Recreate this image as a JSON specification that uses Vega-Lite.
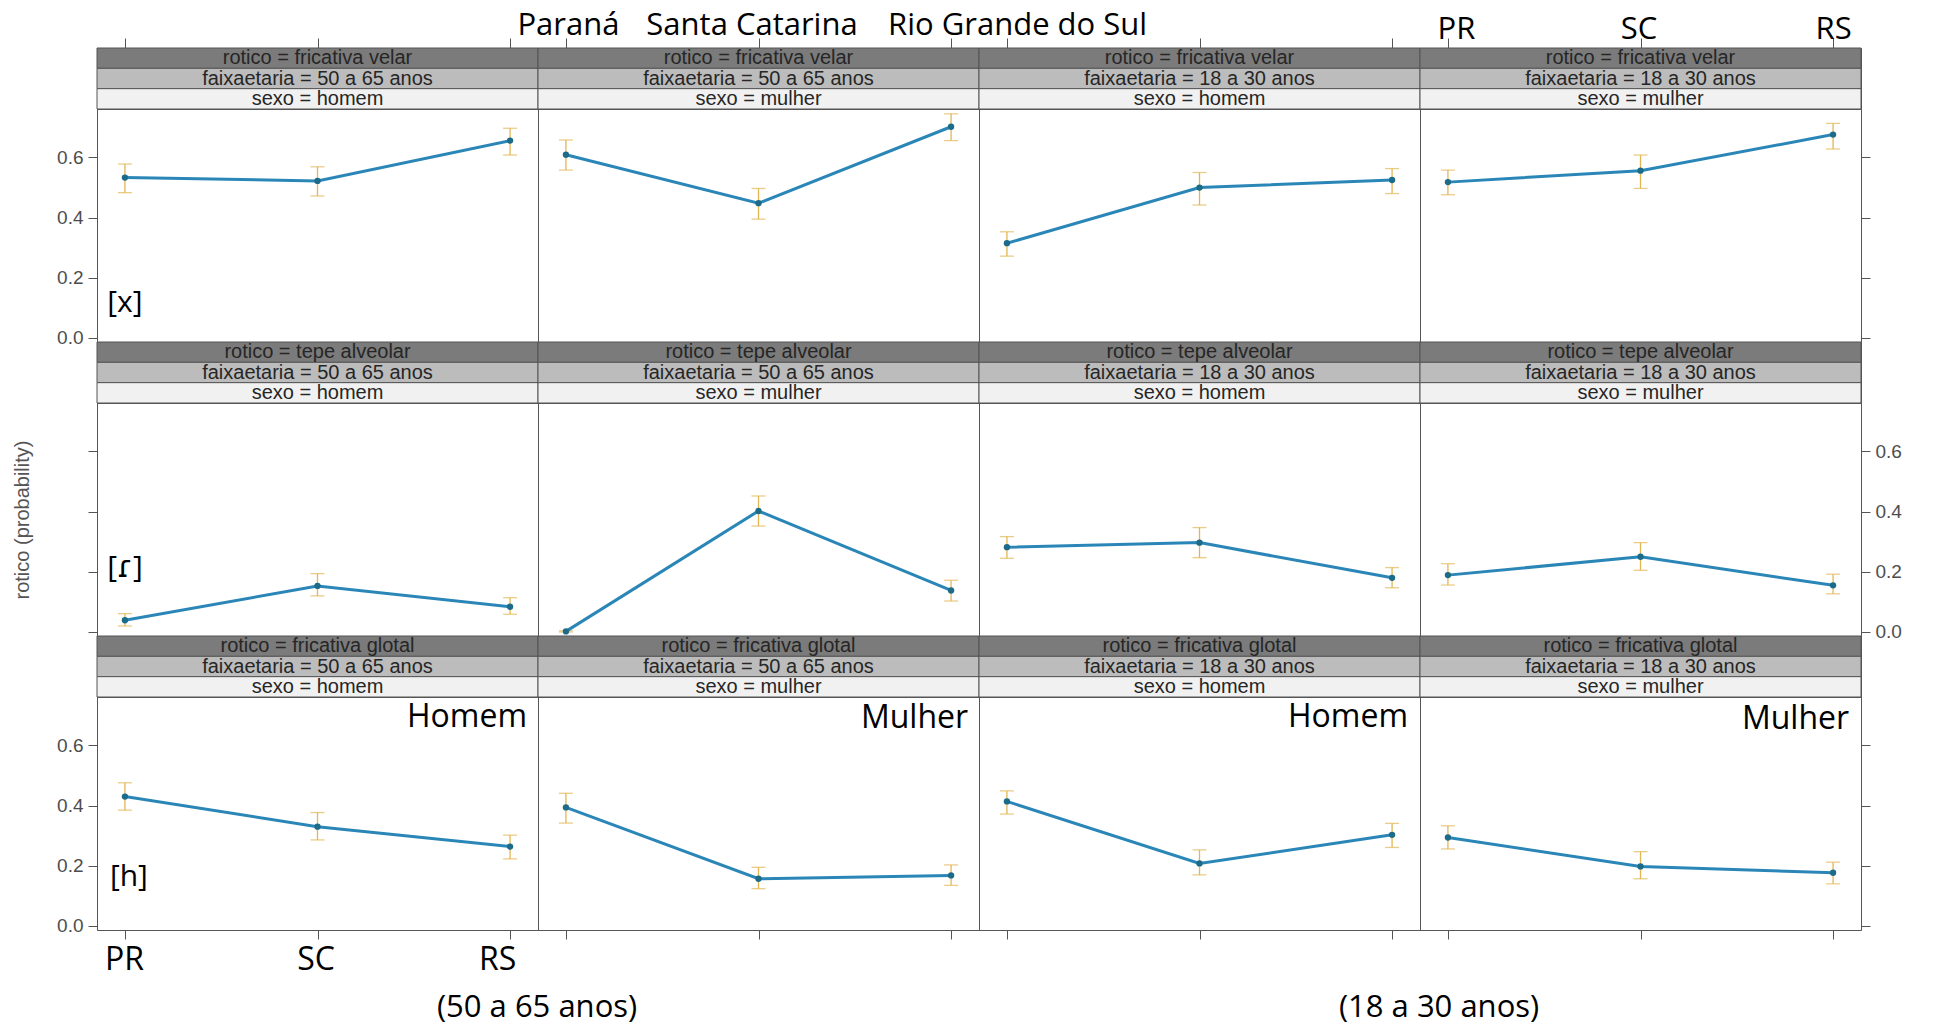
{
"$schema":"https://vega.github.io/schema/vega-lite/v6.json",
"padding":{"left":12,"top":8,"right":5,"bottom":0},
"background":"white",
"config":{
 "view":{"stroke":"#555","strokeWidth":1},
 "axis":{"domain":false,"grid":false,"tickColor":"#555","tickWidth":1,"tickSize":9,"labelFont":"Liberation Sans","labelFontSize":19,"labelColor":"#4d4d4d","labelPadding":5,"labelLimit":0,"titleFont":"Liberation Sans","titleFontSize":20,"titleFontWeight":"normal","titleColor":"#555"},
 "axisX":{"labelAngle":0}
},
"datasets":{
 "p11":[{"reg":"PR","fit":0.533,"lo":0.483,"hi":0.578},{"reg":"SC","fit":0.522,"lo":0.472,"hi":0.569},{"reg":"RS","fit":0.656,"lo":0.608,"hi":0.697}],
 "p12":[{"reg":"PR","fit":0.609,"lo":0.558,"hi":0.658},{"reg":"SC","fit":0.448,"lo":0.395,"hi":0.497},{"reg":"RS","fit":0.702,"lo":0.656,"hi":0.745}],
 "p13":[{"reg":"PR","fit":0.315,"lo":0.272,"hi":0.353},{"reg":"SC","fit":0.500,"lo":0.442,"hi":0.550},{"reg":"RS","fit":0.525,"lo":0.480,"hi":0.563}],
 "p14":[{"reg":"PR","fit":0.518,"lo":0.476,"hi":0.558},{"reg":"SC","fit":0.556,"lo":0.497,"hi":0.608},{"reg":"RS","fit":0.676,"lo":0.628,"hi":0.713}],
 "p21":[{"reg":"PR","fit":0.039,"lo":0.020,"hi":0.061},{"reg":"SC","fit":0.153,"lo":0.120,"hi":0.194},{"reg":"RS","fit":0.084,"lo":0.059,"hi":0.114}],
 "p22":[{"reg":"PR","fit":0.002,"lo":0.000,"hi":0.004},{"reg":"SC","fit":0.402,"lo":0.352,"hi":0.452},{"reg":"RS","fit":0.138,"lo":0.103,"hi":0.172}],
 "p23":[{"reg":"PR","fit":0.282,"lo":0.245,"hi":0.317},{"reg":"SC","fit":0.297,"lo":0.247,"hi":0.347},{"reg":"RS","fit":0.180,"lo":0.147,"hi":0.214}],
 "p24":[{"reg":"PR","fit":0.189,"lo":0.156,"hi":0.227},{"reg":"SC","fit":0.250,"lo":0.205,"hi":0.297},{"reg":"RS","fit":0.155,"lo":0.127,"hi":0.192}],
 "p31":[{"reg":"PR","fit":0.430,"lo":0.385,"hi":0.476},{"reg":"SC","fit":0.330,"lo":0.286,"hi":0.377},{"reg":"RS","fit":0.264,"lo":0.223,"hi":0.302}],
 "p32":[{"reg":"PR","fit":0.394,"lo":0.342,"hi":0.441},{"reg":"SC","fit":0.157,"lo":0.124,"hi":0.195},{"reg":"RS","fit":0.168,"lo":0.135,"hi":0.203}],
 "p33":[{"reg":"PR","fit":0.414,"lo":0.372,"hi":0.449},{"reg":"SC","fit":0.208,"lo":0.170,"hi":0.253},{"reg":"RS","fit":0.303,"lo":0.261,"hi":0.341}],
 "p34":[{"reg":"PR","fit":0.294,"lo":0.256,"hi":0.333},{"reg":"SC","fit":0.198,"lo":0.157,"hi":0.247},{"reg":"RS","fit":0.177,"lo":0.140,"hi":0.212}],
 "s11":[{"lvl":"rotico","label":"rotico = fricativa velar"},{"lvl":"faixaetaria","label":"faixaetaria = 50 a 65 anos"},{"lvl":"sexo","label":"sexo = homem"}],
 "s12":[{"lvl":"rotico","label":"rotico = fricativa velar"},{"lvl":"faixaetaria","label":"faixaetaria = 50 a 65 anos"},{"lvl":"sexo","label":"sexo = mulher"}],
 "s13":[{"lvl":"rotico","label":"rotico = fricativa velar"},{"lvl":"faixaetaria","label":"faixaetaria = 18 a 30 anos"},{"lvl":"sexo","label":"sexo = homem"}],
 "s14":[{"lvl":"rotico","label":"rotico = fricativa velar"},{"lvl":"faixaetaria","label":"faixaetaria = 18 a 30 anos"},{"lvl":"sexo","label":"sexo = mulher"}],
 "s21":[{"lvl":"rotico","label":"rotico = tepe alveolar"},{"lvl":"faixaetaria","label":"faixaetaria = 50 a 65 anos"},{"lvl":"sexo","label":"sexo = homem"}],
 "s22":[{"lvl":"rotico","label":"rotico = tepe alveolar"},{"lvl":"faixaetaria","label":"faixaetaria = 50 a 65 anos"},{"lvl":"sexo","label":"sexo = mulher"}],
 "s23":[{"lvl":"rotico","label":"rotico = tepe alveolar"},{"lvl":"faixaetaria","label":"faixaetaria = 18 a 30 anos"},{"lvl":"sexo","label":"sexo = homem"}],
 "s24":[{"lvl":"rotico","label":"rotico = tepe alveolar"},{"lvl":"faixaetaria","label":"faixaetaria = 18 a 30 anos"},{"lvl":"sexo","label":"sexo = mulher"}],
 "s31":[{"lvl":"rotico","label":"rotico = fricativa glotal"},{"lvl":"faixaetaria","label":"faixaetaria = 50 a 65 anos"},{"lvl":"sexo","label":"sexo = homem"}],
 "s32":[{"lvl":"rotico","label":"rotico = fricativa glotal"},{"lvl":"faixaetaria","label":"faixaetaria = 50 a 65 anos"},{"lvl":"sexo","label":"sexo = mulher"}],
 "s33":[{"lvl":"rotico","label":"rotico = fricativa glotal"},{"lvl":"faixaetaria","label":"faixaetaria = 18 a 30 anos"},{"lvl":"sexo","label":"sexo = homem"}],
 "s34":[{"lvl":"rotico","label":"rotico = fricativa glotal"},{"lvl":"faixaetaria","label":"faixaetaria = 18 a 30 anos"},{"lvl":"sexo","label":"sexo = mulher"}]
},
"columns":4,
"spacing":0,
"bounds":"flush",
"concat":[
 {"width":441,"height":61,"data":{"name":"s11"},"layer":[
  {"mark":{"type":"rect","stroke":"#555","strokeWidth":1},"encoding":{"y":{"field":"lvl","type":"nominal","scale":{"type":"band","domain":["rotico","faixaetaria","sexo"],"paddingInner":0,"paddingOuter":0},"axis":null},"x":{"value":0},"x2":{"value":"width"},"fill":{"field":"lvl","type":"nominal","scale":{"domain":["rotico","faixaetaria","sexo"],"range":["#7b7b7b","#bcbcbc","#f1f1f1"]},"legend":null}}},
  {"mark":{"type":"text","font":"Liberation Sans","fontSize":20,"color":"#262626"},"encoding":{"y":{"field":"lvl","type":"nominal","scale":{"type":"band","domain":["rotico","faixaetaria","sexo"],"paddingInner":0,"paddingOuter":0},"axis":null},"text":{"field":"label"}}},
  {"mark":{"type":"rule","strokeOpacity":0},"encoding":{"x":{"datum":"SC","type":"ordinal","scale":{"type":"point","domain":["PR","SC","RS"],"padding":0.145},"axis":{"orient":"top","tickSize":10,"labels":false,"title":null}}}}
 ]},
 {"width":441,"height":61,"data":{"name":"s12"},"layer":[
  {"mark":{"type":"rect","stroke":"#555","strokeWidth":1},"encoding":{"y":{"field":"lvl","type":"nominal","scale":{"type":"band","domain":["rotico","faixaetaria","sexo"],"paddingInner":0,"paddingOuter":0},"axis":null},"x":{"value":0},"x2":{"value":"width"},"fill":{"field":"lvl","type":"nominal","scale":{"domain":["rotico","faixaetaria","sexo"],"range":["#7b7b7b","#bcbcbc","#f1f1f1"]},"legend":null}}},
  {"mark":{"type":"text","font":"Liberation Sans","fontSize":20,"color":"#262626"},"encoding":{"y":{"field":"lvl","type":"nominal","scale":{"type":"band","domain":["rotico","faixaetaria","sexo"],"paddingInner":0,"paddingOuter":0},"axis":null},"text":{"field":"label"}}},
  {"mark":{"type":"rule","strokeOpacity":0},"encoding":{"x":{"datum":"SC","type":"ordinal","scale":{"type":"point","domain":["PR","SC","RS"],"padding":0.145},"axis":{"orient":"top","tickSize":10,"labels":true,"labelExpr":"datum.value == 'PR' ? 'Paraná' : datum.value == 'SC' ? 'Santa Catarina' : 'Rio Grande do Sul'","labelFont":"Open Sans","labelFontSize":31,"labelColor":"#000","labelPadding":-3,"labelOverlap":false,"labelLimit":0,"labelOffset":{"condition":[{"test":"datum.value == 'RS'","value":66},{"test":"datum.value == 'SC'","value":-7}],"value":2},"title":null}}}}
 ]},
 {"width":441,"height":61,"data":{"name":"s13"},"layer":[
  {"mark":{"type":"rect","stroke":"#555","strokeWidth":1},"encoding":{"y":{"field":"lvl","type":"nominal","scale":{"type":"band","domain":["rotico","faixaetaria","sexo"],"paddingInner":0,"paddingOuter":0},"axis":null},"x":{"value":0},"x2":{"value":"width"},"fill":{"field":"lvl","type":"nominal","scale":{"domain":["rotico","faixaetaria","sexo"],"range":["#7b7b7b","#bcbcbc","#f1f1f1"]},"legend":null}}},
  {"mark":{"type":"text","font":"Liberation Sans","fontSize":20,"color":"#262626"},"encoding":{"y":{"field":"lvl","type":"nominal","scale":{"type":"band","domain":["rotico","faixaetaria","sexo"],"paddingInner":0,"paddingOuter":0},"axis":null},"text":{"field":"label"}}},
  {"mark":{"type":"rule","strokeOpacity":0},"encoding":{"x":{"datum":"SC","type":"ordinal","scale":{"type":"point","domain":["PR","SC","RS"],"padding":0.145},"axis":{"orient":"top","tickSize":10,"labels":false,"title":null}}}}
 ]},
 {"width":441,"height":61,"data":{"name":"s14"},"layer":[
  {"mark":{"type":"rect","stroke":"#555","strokeWidth":1},"encoding":{"y":{"field":"lvl","type":"nominal","scale":{"type":"band","domain":["rotico","faixaetaria","sexo"],"paddingInner":0,"paddingOuter":0},"axis":null},"x":{"value":0},"x2":{"value":"width"},"fill":{"field":"lvl","type":"nominal","scale":{"domain":["rotico","faixaetaria","sexo"],"range":["#7b7b7b","#bcbcbc","#f1f1f1"]},"legend":null}}},
  {"mark":{"type":"text","font":"Liberation Sans","fontSize":20,"color":"#262626"},"encoding":{"y":{"field":"lvl","type":"nominal","scale":{"type":"band","domain":["rotico","faixaetaria","sexo"],"paddingInner":0,"paddingOuter":0},"axis":null},"text":{"field":"label"}}},
  {"mark":{"type":"rule","strokeOpacity":0},"encoding":{"x":{"datum":"SC","type":"ordinal","scale":{"type":"point","domain":["PR","SC","RS"],"padding":0.145},"axis":{"orient":"top","tickSize":10,"labels":true,"labelFont":"Open Sans","labelFontSize":31,"labelColor":"#000","labelPadding":-7,"labelOffset":{"condition":[{"test":"datum.value == 'SC'","value":-2},{"test":"datum.value == 'RS'","value":0}],"value":8},"title":null}}}}
 ]},

 {"width":441,"height":233,"data":{"name":"p11"},
  "encoding":{"x":{"field":"reg","type":"ordinal","scale":{"type":"point","domain":["PR","SC","RS"],"padding":0.145},"axis":null},"y":{"field":"fit","type":"quantitative","scale":{"domain":[-0.0133,0.761],"nice":false,"zero":false},"axis":{"orient":"left","values":[0,0.2,0.4,0.6],"format":".1f","title":null}}},
  "layer":[
   {"mark":{"type":"rule","color":"#e3b654","strokeWidth":1.3},"encoding":{"y":{"field":"lo","type":"quantitative","scale":{"domain":[-0.0133,0.761],"nice":false,"zero":false},"axis":{"orient":"left","values":[0,0.2,0.4,0.6],"format":".1f","title":null}},"y2":{"field":"hi"}}},
   {"transform":[{"fold":["lo","hi"],"as":["k","v"]}],"mark":{"type":"tick","orient":"horizontal","color":"#e3b654","size":14,"thickness":1.3},"encoding":{"y":{"field":"v","type":"quantitative","scale":{"domain":[-0.0133,0.761],"nice":false,"zero":false},"axis":{"orient":"left","values":[0,0.2,0.4,0.6],"format":".1f","title":null}}}},
   {"mark":{"type":"line","color":"#2b86b8","strokeWidth":3},"encoding":{}},
   {"mark":{"type":"point","filled":true,"color":"#1c6b88","size":40,"opacity":1}},
   {"transform":[{"filter":"datum.reg == 'PR'"}],"mark":{"type":"text","font":"Open Sans","fontSize":30,"color":"#000","baseline":"middle","align":"center"},"encoding":{"x":{"datum":"PR","type":"ordinal","scale":{"type":"point","domain":["PR","SC","RS"],"padding":0.145},"axis":null},"y":{"datum":0.117,"type":"quantitative","scale":{"domain":[-0.0133,0.761],"nice":false,"zero":false},"axis":{"orient":"left","values":[0,0.2,0.4,0.6],"format":".1f","title":null}},"text":{"value":"[x]"}}}
  ]},
 {"width":441,"height":233,"data":{"name":"p12"},
  "encoding":{"x":{"field":"reg","type":"ordinal","scale":{"type":"point","domain":["PR","SC","RS"],"padding":0.145},"axis":null},"y":{"field":"fit","type":"quantitative","scale":{"domain":[-0.0133,0.761],"nice":false,"zero":false},"axis":null}},
  "layer":[
   {"mark":{"type":"rule","color":"#e3b654","strokeWidth":1.3},"encoding":{"y":{"field":"lo","type":"quantitative","scale":{"domain":[-0.0133,0.761],"nice":false,"zero":false},"axis":null},"y2":{"field":"hi"}}},
   {"transform":[{"fold":["lo","hi"],"as":["k","v"]}],"mark":{"type":"tick","orient":"horizontal","color":"#e3b654","size":14,"thickness":1.3},"encoding":{"y":{"field":"v","type":"quantitative","scale":{"domain":[-0.0133,0.761],"nice":false,"zero":false},"axis":null}}},
   {"mark":{"type":"line","color":"#2b86b8","strokeWidth":3},"encoding":{}},
   {"mark":{"type":"point","filled":true,"color":"#1c6b88","size":40,"opacity":1}}
  ]},
 {"width":441,"height":233,"data":{"name":"p13"},
  "encoding":{"x":{"field":"reg","type":"ordinal","scale":{"type":"point","domain":["PR","SC","RS"],"padding":0.145},"axis":null},"y":{"field":"fit","type":"quantitative","scale":{"domain":[-0.0133,0.761],"nice":false,"zero":false},"axis":null}},
  "layer":[
   {"mark":{"type":"rule","color":"#e3b654","strokeWidth":1.3},"encoding":{"y":{"field":"lo","type":"quantitative","scale":{"domain":[-0.0133,0.761],"nice":false,"zero":false},"axis":null},"y2":{"field":"hi"}}},
   {"transform":[{"fold":["lo","hi"],"as":["k","v"]}],"mark":{"type":"tick","orient":"horizontal","color":"#e3b654","size":14,"thickness":1.3},"encoding":{"y":{"field":"v","type":"quantitative","scale":{"domain":[-0.0133,0.761],"nice":false,"zero":false},"axis":null}}},
   {"mark":{"type":"line","color":"#2b86b8","strokeWidth":3},"encoding":{}},
   {"mark":{"type":"point","filled":true,"color":"#1c6b88","size":40,"opacity":1}}
  ]},
 {"width":441,"height":233,"data":{"name":"p14"},
  "encoding":{"x":{"field":"reg","type":"ordinal","scale":{"type":"point","domain":["PR","SC","RS"],"padding":0.145},"axis":null},"y":{"field":"fit","type":"quantitative","scale":{"domain":[-0.0133,0.761],"nice":false,"zero":false},"axis":{"orient":"right","values":[0,0.2,0.4,0.6],"labels":false,"title":null}}},
  "layer":[
   {"mark":{"type":"rule","color":"#e3b654","strokeWidth":1.3},"encoding":{"y":{"field":"lo","type":"quantitative","scale":{"domain":[-0.0133,0.761],"nice":false,"zero":false},"axis":{"orient":"right","values":[0,0.2,0.4,0.6],"labels":false,"title":null}},"y2":{"field":"hi"}}},
   {"transform":[{"fold":["lo","hi"],"as":["k","v"]}],"mark":{"type":"tick","orient":"horizontal","color":"#e3b654","size":14,"thickness":1.3},"encoding":{"y":{"field":"v","type":"quantitative","scale":{"domain":[-0.0133,0.761],"nice":false,"zero":false},"axis":{"orient":"right","values":[0,0.2,0.4,0.6],"labels":false,"title":null}}}},
   {"mark":{"type":"line","color":"#2b86b8","strokeWidth":3},"encoding":{}},
   {"mark":{"type":"point","filled":true,"color":"#1c6b88","size":40,"opacity":1}}
  ]},

 {"width":441,"height":61,"data":{"name":"s21"},"layer":[
  {"mark":{"type":"rect","stroke":"#555","strokeWidth":1},"encoding":{"y":{"field":"lvl","type":"nominal","scale":{"type":"band","domain":["rotico","faixaetaria","sexo"],"paddingInner":0,"paddingOuter":0},"axis":null},"x":{"value":0},"x2":{"value":"width"},"fill":{"field":"lvl","type":"nominal","scale":{"domain":["rotico","faixaetaria","sexo"],"range":["#7b7b7b","#bcbcbc","#f1f1f1"]},"legend":null}}},
  {"mark":{"type":"text","font":"Liberation Sans","fontSize":20,"color":"#262626"},"encoding":{"y":{"field":"lvl","type":"nominal","scale":{"type":"band","domain":["rotico","faixaetaria","sexo"],"paddingInner":0,"paddingOuter":0},"axis":null},"text":{"field":"label"}}}
 ]},
 {"width":441,"height":61,"data":{"name":"s22"},"layer":[
  {"mark":{"type":"rect","stroke":"#555","strokeWidth":1},"encoding":{"y":{"field":"lvl","type":"nominal","scale":{"type":"band","domain":["rotico","faixaetaria","sexo"],"paddingInner":0,"paddingOuter":0},"axis":null},"x":{"value":0},"x2":{"value":"width"},"fill":{"field":"lvl","type":"nominal","scale":{"domain":["rotico","faixaetaria","sexo"],"range":["#7b7b7b","#bcbcbc","#f1f1f1"]},"legend":null}}},
  {"mark":{"type":"text","font":"Liberation Sans","fontSize":20,"color":"#262626"},"encoding":{"y":{"field":"lvl","type":"nominal","scale":{"type":"band","domain":["rotico","faixaetaria","sexo"],"paddingInner":0,"paddingOuter":0},"axis":null},"text":{"field":"label"}}}
 ]},
 {"width":441,"height":61,"data":{"name":"s23"},"layer":[
  {"mark":{"type":"rect","stroke":"#555","strokeWidth":1},"encoding":{"y":{"field":"lvl","type":"nominal","scale":{"type":"band","domain":["rotico","faixaetaria","sexo"],"paddingInner":0,"paddingOuter":0},"axis":null},"x":{"value":0},"x2":{"value":"width"},"fill":{"field":"lvl","type":"nominal","scale":{"domain":["rotico","faixaetaria","sexo"],"range":["#7b7b7b","#bcbcbc","#f1f1f1"]},"legend":null}}},
  {"mark":{"type":"text","font":"Liberation Sans","fontSize":20,"color":"#262626"},"encoding":{"y":{"field":"lvl","type":"nominal","scale":{"type":"band","domain":["rotico","faixaetaria","sexo"],"paddingInner":0,"paddingOuter":0},"axis":null},"text":{"field":"label"}}}
 ]},
 {"width":441,"height":61,"data":{"name":"s24"},"layer":[
  {"mark":{"type":"rect","stroke":"#555","strokeWidth":1},"encoding":{"y":{"field":"lvl","type":"nominal","scale":{"type":"band","domain":["rotico","faixaetaria","sexo"],"paddingInner":0,"paddingOuter":0},"axis":null},"x":{"value":0},"x2":{"value":"width"},"fill":{"field":"lvl","type":"nominal","scale":{"domain":["rotico","faixaetaria","sexo"],"range":["#7b7b7b","#bcbcbc","#f1f1f1"]},"legend":null}}},
  {"mark":{"type":"text","font":"Liberation Sans","fontSize":20,"color":"#262626"},"encoding":{"y":{"field":"lvl","type":"nominal","scale":{"type":"band","domain":["rotico","faixaetaria","sexo"],"paddingInner":0,"paddingOuter":0},"axis":null},"text":{"field":"label"}}}
 ]},

 {"width":441,"height":233,"data":{"name":"p21"},
  "encoding":{"x":{"field":"reg","type":"ordinal","scale":{"type":"point","domain":["PR","SC","RS"],"padding":0.145},"axis":null},"y":{"field":"fit","type":"quantitative","scale":{"domain":[-0.0133,0.761],"nice":false,"zero":false},"axis":{"orient":"left","values":[0,0.2,0.4,0.6],"labels":false,"title":"rotico (probability)","titlePadding":55}}},
  "layer":[
   {"mark":{"type":"rule","color":"#e3b654","strokeWidth":1.3},"encoding":{"y":{"field":"lo","type":"quantitative","scale":{"domain":[-0.0133,0.761],"nice":false,"zero":false},"axis":{"orient":"left","values":[0,0.2,0.4,0.6],"labels":false,"title":"rotico (probability)","titlePadding":55}},"y2":{"field":"hi"}}},
   {"transform":[{"fold":["lo","hi"],"as":["k","v"]}],"mark":{"type":"tick","orient":"horizontal","color":"#e3b654","size":14,"thickness":1.3},"encoding":{"y":{"field":"v","type":"quantitative","scale":{"domain":[-0.0133,0.761],"nice":false,"zero":false},"axis":{"orient":"left","values":[0,0.2,0.4,0.6],"labels":false,"title":"rotico (probability)","titlePadding":55}}}},
   {"mark":{"type":"line","color":"#2b86b8","strokeWidth":3},"encoding":{}},
   {"mark":{"type":"point","filled":true,"color":"#1c6b88","size":40,"opacity":1}},
   {"transform":[{"filter":"datum.reg == 'PR'"}],"mark":{"type":"text","font":"Open Sans, DejaVu Sans","fontSize":30,"color":"#000","baseline":"middle","align":"center"},"encoding":{"x":{"datum":"PR","type":"ordinal","scale":{"type":"point","domain":["PR","SC","RS"],"padding":0.145},"axis":null},"y":{"datum":0.214,"type":"quantitative","scale":{"domain":[-0.0133,0.761],"nice":false,"zero":false},"axis":{"orient":"left","values":[0,0.2,0.4,0.6],"labels":false,"title":"rotico (probability)","titlePadding":55}},"text":{"value":"[ɾ]"}}}
  ]},
 {"width":441,"height":233,"data":{"name":"p22"},
  "encoding":{"x":{"field":"reg","type":"ordinal","scale":{"type":"point","domain":["PR","SC","RS"],"padding":0.145},"axis":null},"y":{"field":"fit","type":"quantitative","scale":{"domain":[-0.0133,0.761],"nice":false,"zero":false},"axis":null}},
  "layer":[
   {"mark":{"type":"rule","color":"#e3b654","strokeWidth":1.3},"encoding":{"y":{"field":"lo","type":"quantitative","scale":{"domain":[-0.0133,0.761],"nice":false,"zero":false},"axis":null},"y2":{"field":"hi"}}},
   {"transform":[{"fold":["lo","hi"],"as":["k","v"]}],"mark":{"type":"tick","orient":"horizontal","color":"#e3b654","size":14,"thickness":1.3},"encoding":{"y":{"field":"v","type":"quantitative","scale":{"domain":[-0.0133,0.761],"nice":false,"zero":false},"axis":null}}},
   {"mark":{"type":"line","color":"#2b86b8","strokeWidth":3},"encoding":{}},
   {"mark":{"type":"point","filled":true,"color":"#1c6b88","size":40,"opacity":1}}
  ]},
 {"width":441,"height":233,"data":{"name":"p23"},
  "encoding":{"x":{"field":"reg","type":"ordinal","scale":{"type":"point","domain":["PR","SC","RS"],"padding":0.145},"axis":null},"y":{"field":"fit","type":"quantitative","scale":{"domain":[-0.0133,0.761],"nice":false,"zero":false},"axis":null}},
  "layer":[
   {"mark":{"type":"rule","color":"#e3b654","strokeWidth":1.3},"encoding":{"y":{"field":"lo","type":"quantitative","scale":{"domain":[-0.0133,0.761],"nice":false,"zero":false},"axis":null},"y2":{"field":"hi"}}},
   {"transform":[{"fold":["lo","hi"],"as":["k","v"]}],"mark":{"type":"tick","orient":"horizontal","color":"#e3b654","size":14,"thickness":1.3},"encoding":{"y":{"field":"v","type":"quantitative","scale":{"domain":[-0.0133,0.761],"nice":false,"zero":false},"axis":null}}},
   {"mark":{"type":"line","color":"#2b86b8","strokeWidth":3},"encoding":{}},
   {"mark":{"type":"point","filled":true,"color":"#1c6b88","size":40,"opacity":1}}
  ]},
 {"width":441,"height":233,"data":{"name":"p24"},
  "encoding":{"x":{"field":"reg","type":"ordinal","scale":{"type":"point","domain":["PR","SC","RS"],"padding":0.145},"axis":null},"y":{"field":"fit","type":"quantitative","scale":{"domain":[-0.0133,0.761],"nice":false,"zero":false},"axis":{"orient":"right","values":[0,0.2,0.4,0.6],"format":".1f","title":null}}},
  "layer":[
   {"mark":{"type":"rule","color":"#e3b654","strokeWidth":1.3},"encoding":{"y":{"field":"lo","type":"quantitative","scale":{"domain":[-0.0133,0.761],"nice":false,"zero":false},"axis":{"orient":"right","values":[0,0.2,0.4,0.6],"format":".1f","title":null}},"y2":{"field":"hi"}}},
   {"transform":[{"fold":["lo","hi"],"as":["k","v"]}],"mark":{"type":"tick","orient":"horizontal","color":"#e3b654","size":14,"thickness":1.3},"encoding":{"y":{"field":"v","type":"quantitative","scale":{"domain":[-0.0133,0.761],"nice":false,"zero":false},"axis":{"orient":"right","values":[0,0.2,0.4,0.6],"format":".1f","title":null}}}},
   {"mark":{"type":"line","color":"#2b86b8","strokeWidth":3},"encoding":{}},
   {"mark":{"type":"point","filled":true,"color":"#1c6b88","size":40,"opacity":1}}
  ]},

 {"width":441,"height":61,"data":{"name":"s31"},"layer":[
  {"mark":{"type":"rect","stroke":"#555","strokeWidth":1},"encoding":{"y":{"field":"lvl","type":"nominal","scale":{"type":"band","domain":["rotico","faixaetaria","sexo"],"paddingInner":0,"paddingOuter":0},"axis":null},"x":{"value":0},"x2":{"value":"width"},"fill":{"field":"lvl","type":"nominal","scale":{"domain":["rotico","faixaetaria","sexo"],"range":["#7b7b7b","#bcbcbc","#f1f1f1"]},"legend":null}}},
  {"mark":{"type":"text","font":"Liberation Sans","fontSize":20,"color":"#262626"},"encoding":{"y":{"field":"lvl","type":"nominal","scale":{"type":"band","domain":["rotico","faixaetaria","sexo"],"paddingInner":0,"paddingOuter":0},"axis":null},"text":{"field":"label"}}}
 ]},
 {"width":441,"height":61,"data":{"name":"s32"},"layer":[
  {"mark":{"type":"rect","stroke":"#555","strokeWidth":1},"encoding":{"y":{"field":"lvl","type":"nominal","scale":{"type":"band","domain":["rotico","faixaetaria","sexo"],"paddingInner":0,"paddingOuter":0},"axis":null},"x":{"value":0},"x2":{"value":"width"},"fill":{"field":"lvl","type":"nominal","scale":{"domain":["rotico","faixaetaria","sexo"],"range":["#7b7b7b","#bcbcbc","#f1f1f1"]},"legend":null}}},
  {"mark":{"type":"text","font":"Liberation Sans","fontSize":20,"color":"#262626"},"encoding":{"y":{"field":"lvl","type":"nominal","scale":{"type":"band","domain":["rotico","faixaetaria","sexo"],"paddingInner":0,"paddingOuter":0},"axis":null},"text":{"field":"label"}}}
 ]},
 {"width":441,"height":61,"data":{"name":"s33"},"layer":[
  {"mark":{"type":"rect","stroke":"#555","strokeWidth":1},"encoding":{"y":{"field":"lvl","type":"nominal","scale":{"type":"band","domain":["rotico","faixaetaria","sexo"],"paddingInner":0,"paddingOuter":0},"axis":null},"x":{"value":0},"x2":{"value":"width"},"fill":{"field":"lvl","type":"nominal","scale":{"domain":["rotico","faixaetaria","sexo"],"range":["#7b7b7b","#bcbcbc","#f1f1f1"]},"legend":null}}},
  {"mark":{"type":"text","font":"Liberation Sans","fontSize":20,"color":"#262626"},"encoding":{"y":{"field":"lvl","type":"nominal","scale":{"type":"band","domain":["rotico","faixaetaria","sexo"],"paddingInner":0,"paddingOuter":0},"axis":null},"text":{"field":"label"}}}
 ]},
 {"width":441,"height":61,"data":{"name":"s34"},"layer":[
  {"mark":{"type":"rect","stroke":"#555","strokeWidth":1},"encoding":{"y":{"field":"lvl","type":"nominal","scale":{"type":"band","domain":["rotico","faixaetaria","sexo"],"paddingInner":0,"paddingOuter":0},"axis":null},"x":{"value":0},"x2":{"value":"width"},"fill":{"field":"lvl","type":"nominal","scale":{"domain":["rotico","faixaetaria","sexo"],"range":["#7b7b7b","#bcbcbc","#f1f1f1"]},"legend":null}}},
  {"mark":{"type":"text","font":"Liberation Sans","fontSize":20,"color":"#262626"},"encoding":{"y":{"field":"lvl","type":"nominal","scale":{"type":"band","domain":["rotico","faixaetaria","sexo"],"paddingInner":0,"paddingOuter":0},"axis":null},"text":{"field":"label"}}}
 ]},

 {"width":441,"height":233,"data":{"name":"p31"},
  "encoding":{"x":{"field":"reg","type":"ordinal","scale":{"type":"point","domain":["PR","SC","RS"],"padding":0.145},"axis":{"orient":"bottom","tickSize":9,"labels":true,"labelFont":"Open Sans","labelFontSize":32,"labelColor":"#000","labelPadding":5,"labelOffset":{"condition":[{"test":"datum.value == 'RS'","value":-13},{"test":"datum.value == 'SC'","value":-2}],"value":-1},"title":null}},"y":{"field":"fit","type":"quantitative","scale":{"domain":[-0.0133,0.761],"nice":false,"zero":false},"axis":{"orient":"left","values":[0,0.2,0.4,0.6],"format":".1f","title":null}}},
  "layer":[
   {"mark":{"type":"rule","color":"#e3b654","strokeWidth":1.3},"encoding":{"y":{"field":"lo","type":"quantitative","scale":{"domain":[-0.0133,0.761],"nice":false,"zero":false},"axis":{"orient":"left","values":[0,0.2,0.4,0.6],"format":".1f","title":null}},"y2":{"field":"hi"}}},
   {"transform":[{"fold":["lo","hi"],"as":["k","v"]}],"mark":{"type":"tick","orient":"horizontal","color":"#e3b654","size":14,"thickness":1.3},"encoding":{"y":{"field":"v","type":"quantitative","scale":{"domain":[-0.0133,0.761],"nice":false,"zero":false},"axis":{"orient":"left","values":[0,0.2,0.4,0.6],"format":".1f","title":null}}}},
   {"mark":{"type":"line","color":"#2b86b8","strokeWidth":3},"encoding":{}},
   {"mark":{"type":"point","filled":true,"color":"#1c6b88","size":40,"opacity":1}},
   {"transform":[{"filter":"datum.reg == 'PR'"}],"mark":{"type":"text","font":"Open Sans","fontSize":30,"color":"#000","baseline":"middle","align":"center","dx":4},"encoding":{"x":{"datum":"PR","type":"ordinal","scale":{"type":"point","domain":["PR","SC","RS"],"padding":0.145},"axis":{"orient":"bottom","tickSize":9,"labels":true,"labelFont":"Open Sans","labelFontSize":32,"labelColor":"#000","labelPadding":5,"labelOffset":{"condition":[{"test":"datum.value == 'RS'","value":-13},{"test":"datum.value == 'SC'","value":-2}],"value":-1},"title":null}},"y":{"datum":0.162,"type":"quantitative","scale":{"domain":[-0.0133,0.761],"nice":false,"zero":false},"axis":{"orient":"left","values":[0,0.2,0.4,0.6],"format":".1f","title":null}},"text":{"value":"[h]"}}},
   {"transform":[{"filter":"datum.reg == 'PR'"}],"mark":{"type":"text","font":"Open Sans","fontSize":32,"color":"#000","baseline":"middle","align":"right","dx":17},"encoding":{"x":{"datum":"RS","type":"ordinal","scale":{"type":"point","domain":["PR","SC","RS"],"padding":0.145},"axis":{"orient":"bottom","tickSize":9,"labels":true,"labelFont":"Open Sans","labelFontSize":32,"labelColor":"#000","labelPadding":5,"labelOffset":{"condition":[{"test":"datum.value == 'RS'","value":-13},{"test":"datum.value == 'SC'","value":-2}],"value":-1},"title":null}},"y":{"datum":0.694,"type":"quantitative","scale":{"domain":[-0.0133,0.761],"nice":false,"zero":false},"axis":{"orient":"left","values":[0,0.2,0.4,0.6],"format":".1f","title":null}},"text":{"value":"Homem"}}},
   {"transform":[{"filter":"datum.reg == 'PR'"}],"mark":{"type":"text","font":"Open Sans","fontSize":31,"color":"#000","baseline":"middle","align":"center","dx":27},"encoding":{"x":{"datum":"RS","type":"ordinal","scale":{"type":"point","domain":["PR","SC","RS"],"padding":0.145},"axis":{"orient":"bottom","tickSize":9,"labels":true,"labelFont":"Open Sans","labelFontSize":32,"labelColor":"#000","labelPadding":5,"labelOffset":{"condition":[{"test":"datum.value == 'RS'","value":-13},{"test":"datum.value == 'SC'","value":-2}],"value":-1},"title":null}},"y":{"datum":-0.272,"type":"quantitative","scale":{"domain":[-0.0133,0.761],"nice":false,"zero":false},"axis":{"orient":"left","values":[0,0.2,0.4,0.6],"format":".1f","title":null}},"text":{"value":"(50 a 65 anos)"}}}
  ]},
 {"width":441,"height":233,"data":{"name":"p32"},
  "encoding":{"x":{"field":"reg","type":"ordinal","scale":{"type":"point","domain":["PR","SC","RS"],"padding":0.145},"axis":{"orient":"bottom","tickSize":9,"labels":false,"title":null}},"y":{"field":"fit","type":"quantitative","scale":{"domain":[-0.0133,0.761],"nice":false,"zero":false},"axis":null}},
  "layer":[
   {"mark":{"type":"rule","color":"#e3b654","strokeWidth":1.3},"encoding":{"y":{"field":"lo","type":"quantitative","scale":{"domain":[-0.0133,0.761],"nice":false,"zero":false},"axis":null},"y2":{"field":"hi"}}},
   {"transform":[{"fold":["lo","hi"],"as":["k","v"]}],"mark":{"type":"tick","orient":"horizontal","color":"#e3b654","size":14,"thickness":1.3},"encoding":{"y":{"field":"v","type":"quantitative","scale":{"domain":[-0.0133,0.761],"nice":false,"zero":false},"axis":null}}},
   {"mark":{"type":"line","color":"#2b86b8","strokeWidth":3},"encoding":{}},
   {"mark":{"type":"point","filled":true,"color":"#1c6b88","size":40,"opacity":1}},
   {"transform":[{"filter":"datum.reg == 'PR'"}],"mark":{"type":"text","font":"Open Sans","fontSize":32,"color":"#000","baseline":"middle","align":"right","dx":17},"encoding":{"x":{"datum":"RS","type":"ordinal","scale":{"type":"point","domain":["PR","SC","RS"],"padding":0.145},"axis":{"orient":"bottom","tickSize":9,"labels":false,"title":null}},"y":{"datum":0.69,"type":"quantitative","scale":{"domain":[-0.0133,0.761],"nice":false,"zero":false},"axis":null},"text":{"value":"Mulher"}}}
  ]},
 {"width":441,"height":233,"data":{"name":"p33"},
  "encoding":{"x":{"field":"reg","type":"ordinal","scale":{"type":"point","domain":["PR","SC","RS"],"padding":0.145},"axis":{"orient":"bottom","tickSize":9,"labels":false,"title":null}},"y":{"field":"fit","type":"quantitative","scale":{"domain":[-0.0133,0.761],"nice":false,"zero":false},"axis":null}},
  "layer":[
   {"mark":{"type":"rule","color":"#e3b654","strokeWidth":1.3},"encoding":{"y":{"field":"lo","type":"quantitative","scale":{"domain":[-0.0133,0.761],"nice":false,"zero":false},"axis":null},"y2":{"field":"hi"}}},
   {"transform":[{"fold":["lo","hi"],"as":["k","v"]}],"mark":{"type":"tick","orient":"horizontal","color":"#e3b654","size":14,"thickness":1.3},"encoding":{"y":{"field":"v","type":"quantitative","scale":{"domain":[-0.0133,0.761],"nice":false,"zero":false},"axis":null}}},
   {"mark":{"type":"line","color":"#2b86b8","strokeWidth":3},"encoding":{}},
   {"mark":{"type":"point","filled":true,"color":"#1c6b88","size":40,"opacity":1}},
   {"transform":[{"filter":"datum.reg == 'PR'"}],"mark":{"type":"text","font":"Open Sans","fontSize":32,"color":"#000","baseline":"middle","align":"right","dx":16},"encoding":{"x":{"datum":"RS","type":"ordinal","scale":{"type":"point","domain":["PR","SC","RS"],"padding":0.145},"axis":{"orient":"bottom","tickSize":9,"labels":false,"title":null}},"y":{"datum":0.694,"type":"quantitative","scale":{"domain":[-0.0133,0.761],"nice":false,"zero":false},"axis":null},"text":{"value":"Homem"}}},
   {"transform":[{"filter":"datum.reg == 'PR'"}],"mark":{"type":"text","font":"Open Sans","fontSize":31,"color":"#000","baseline":"middle","align":"center","dx":47},"encoding":{"x":{"datum":"RS","type":"ordinal","scale":{"type":"point","domain":["PR","SC","RS"],"padding":0.145},"axis":{"orient":"bottom","tickSize":9,"labels":false,"title":null}},"y":{"datum":-0.272,"type":"quantitative","scale":{"domain":[-0.0133,0.761],"nice":false,"zero":false},"axis":null},"text":{"value":"(18 a 30 anos)"}}}
  ]},
 {"width":441,"height":233,"data":{"name":"p34"},
  "encoding":{"x":{"field":"reg","type":"ordinal","scale":{"type":"point","domain":["PR","SC","RS"],"padding":0.145},"axis":{"orient":"bottom","tickSize":9,"labels":false,"title":null}},"y":{"field":"fit","type":"quantitative","scale":{"domain":[-0.0133,0.761],"nice":false,"zero":false},"axis":{"orient":"right","values":[0,0.2,0.4,0.6],"labels":false,"title":null}}},
  "layer":[
   {"mark":{"type":"rule","color":"#e3b654","strokeWidth":1.3},"encoding":{"y":{"field":"lo","type":"quantitative","scale":{"domain":[-0.0133,0.761],"nice":false,"zero":false},"axis":{"orient":"right","values":[0,0.2,0.4,0.6],"labels":false,"title":null}},"y2":{"field":"hi"}}},
   {"transform":[{"fold":["lo","hi"],"as":["k","v"]}],"mark":{"type":"tick","orient":"horizontal","color":"#e3b654","size":14,"thickness":1.3},"encoding":{"y":{"field":"v","type":"quantitative","scale":{"domain":[-0.0133,0.761],"nice":false,"zero":false},"axis":{"orient":"right","values":[0,0.2,0.4,0.6],"labels":false,"title":null}}}},
   {"mark":{"type":"line","color":"#2b86b8","strokeWidth":3},"encoding":{}},
   {"mark":{"type":"point","filled":true,"color":"#1c6b88","size":40,"opacity":1}},
   {"transform":[{"filter":"datum.reg == 'PR'"}],"mark":{"type":"text","font":"Open Sans","fontSize":32,"color":"#000","baseline":"middle","align":"right","dx":16},"encoding":{"x":{"datum":"RS","type":"ordinal","scale":{"type":"point","domain":["PR","SC","RS"],"padding":0.145},"axis":{"orient":"bottom","tickSize":9,"labels":false,"title":null}},"y":{"datum":0.687,"type":"quantitative","scale":{"domain":[-0.0133,0.761],"nice":false,"zero":false},"axis":{"orient":"right","values":[0,0.2,0.4,0.6],"labels":false,"title":null}},"text":{"value":"Mulher"}}}
  ]}
]
}
